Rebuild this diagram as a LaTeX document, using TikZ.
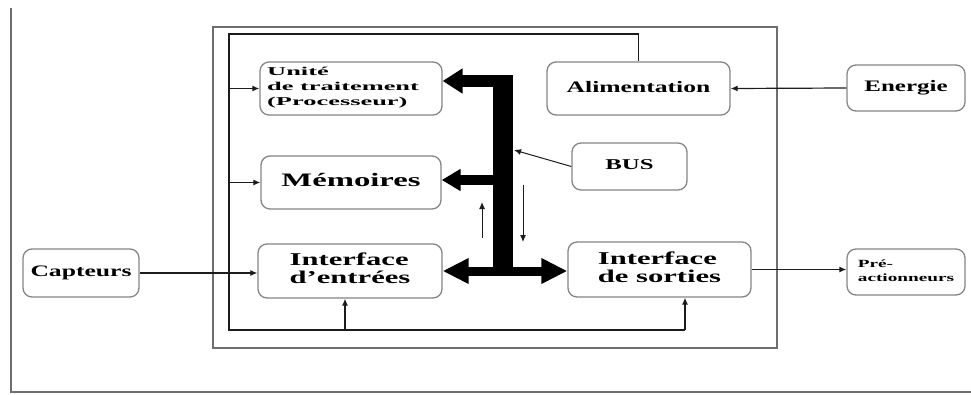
\documentclass[tikz,border=0pt]{standalone}
\usepackage{fontspec}
\setmainfont{Liberation Serif}
\usetikzlibrary{arrows.meta}
\definecolor{framegray}{HTML}{6E6E6E}
\definecolor{boxgray}{HTML}{858585}
\definecolor{wiredark}{HTML}{1C1C1C}
% bold, horizontally widened label: {x-stretch}{size}{line skip}{lines}
\newcommand{\boxtext}[4]{\scalebox{#1}[1]{\fontsize{#2}{#3}\selectfont\bfseries
  \begin{tabular}{@{}l@{}}#4\end{tabular}}}
\begin{document}
\begin{tikzpicture}[x=1pt,y=-1pt,
  box/.style={draw=boxgray, line width=1.3pt, rounded corners=9pt, inner sep=0pt, fill=white},
  wire/.style={draw=wiredark, line width=1.2pt},
  arr/.style={-{Latex[length=7pt,width=6pt]}},
  busline/.style={draw=black, line cap=butt}
]
\useasboundingbox (0,0) rectangle (971,394);

% page frame (left and bottom edges)
\draw[framegray, line width=1.8pt] (11,8) -- (11,392) -- (971,392);

% controller enclosure
\node[draw=framegray, line width=1.8pt, minimum width=564pt, minimum height=321pt, inner sep=0pt] (mcu) at (495,187.5) {};

% feedback wiring corners
\coordinate (fbTL) at (229,34);
\coordinate (fbBL) at (229,330);
\coordinate (fbBR) at (685,330);
\coordinate (fbIn) at (345,330);

% blocks
\node[box, minimum width=182pt, minimum height=53pt] (unite) at (351,88.5) {};
\node[anchor=west, inner sep=0pt] (unitetxt) at (267,87) {\boxtext{2.2}{12}{15}{Unité\\de traitement\\(Processeur)}};
\node[box, minimum width=183pt, minimum height=53pt] (alim) at (638.5,88.5) {\boxtext{1.6}{16}{18}{Alimentation}};
\node[box, minimum width=118pt, minimum height=46pt] (energie) at (906,88) {\boxtext{1.56}{16}{18}{Energie}};
\node[box, minimum width=115pt, minimum height=47pt] (bus) at (629.5,166.5) {\boxtext{1.65}{15}{17}{BUS}};
\node[box, minimum width=180pt, minimum height=53pt] (mem) at (351,182.5) {\boxtext{1.72}{19}{21}{Mémoires}};
\node[box, minimum width=184pt, minimum height=54pt] (entrees) at (350,271) {\boxtext{1.7}{18}{18}{Interface\\d'entrées}};
\node[box, minimum width=183pt, minimum height=55pt] (sorties) at (659.5,269.5) {\boxtext{1.7}{18}{18}{Interface\\de sorties}};
\node[box, minimum width=116pt, minimum height=48pt] (capteurs) at (81,273) {\boxtext{1.6}{16}{18}{Capteurs}};
\node[box, minimum width=118pt, minimum height=46pt] (preact) at (906,272) {\boxtext{1.75}{11}{14}{Pré-\\actionneurs}};

% power feedback loop
\draw[wire] (alim.north) |- (fbTL) -- (fbBL) -- (fbBR);
\draw[wire,arr] (fbBR) -- (fbBR |- sorties.south);
\draw[wire,arr] (fbIn) -- (fbIn |- entrees.south);
\draw[wire,arr] (fbTL |- unite.west) -- (unite.west);
\draw[wire,arr] (fbTL |- mem.west) -- (mem.west);

% external signals
\draw[wire,arr] (energie.west) -- (alim.east);
\draw[wire,arr] (capteurs.east) -- (capteurs.east -| entrees.west);
\draw[wire,arr] (sorties.east) -- (sorties.east -| preact.west);

% system bus
\coordinate (busTop) at (503,75);
\coordinate (busBot) at (503,274);
\coordinate (armTop) at (503,81);
\coordinate (armMem) at (503,180);
\coordinate (armIO) at (503,271);
\draw[busline, line width=20pt] (busTop) -- (busBot);
\draw[busline, line width=12pt, -{Triangle[length=20pt,width=24pt]}] (armTop) -- (unite.east |- armTop);
\draw[busline, line width=10pt, -{Triangle[length=19pt,width=21pt]}] (armMem) -- (mem.east |- armMem);
\draw[busline, line width=9pt, {Triangle[length=26pt,width=24pt]}-{Triangle[length=26pt,width=24pt]}]
  (entrees.east |- armIO) -- (sorties.west |- armIO);

% bus label pointer
\coordinate (busPt) at (514,150);
\draw[wire, line width=1pt, arr] (bus.west) -- (busPt);

% data direction marks
\coordinate (upS) at (482,238);
\coordinate (upE) at (482,202);
\coordinate (dnS) at (523,185);
\coordinate (dnE) at (523,242);
\draw[wire, line width=1pt, arr] (upS) -- (upE);
\draw[wire, line width=1pt, arr] (dnS) -- (dnE);
\end{tikzpicture}
\end{document}
